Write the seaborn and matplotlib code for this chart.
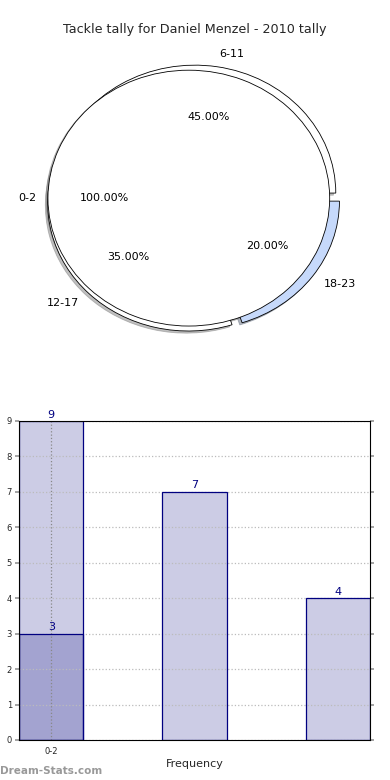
import matplotlib
matplotlib.use("Agg")
import matplotlib.pyplot as plt
import seaborn as sns
import pandas as pd

# pie data
pie_labels = ["6-11", "12-17", "18-23"]
pie_values = [45, 35, 20]
base_label = ["0-2"]
base_value = [100]

# bar data
bar_cats = ["0-2", "6-11", "12-17"]
bar_totals = [9, 7, 4]
bar_low_cat = ["0-2"]
bar_low = [3]
tick_labels = ["0-2", "", ""]

sns.set_theme(style="white")
plt.rcParams['font.family'] = ['DejaVu Sans']

fig = plt.figure(figsize=(3.9, 7.8), dpi=100)

# ---- pie ----
ax1 = fig.add_axes([0.046, 0.541, 0.903, 0.41])
ax1.pie(pie_values, labels=pie_labels, autopct='%.2f%%', startangle=0,
        colors=["white", "white", "#c6d9fb"], explode=[0.04, 0.055, 0.04],
        radius=1.0, shadow=dict(ox=-0.012, oy=-0.012, shade=0.5),
        labeldistance=1.1, pctdistance=0.6,
        wedgeprops=dict(edgecolor="black", linewidth=0.6),
        textprops=dict(fontsize=8, color="black"))
ax1.pie(base_value, labels=base_label, autopct='%.2f%%', startangle=0,
        colors=["white"], radius=1.0, explode=[0.037],
        shadow=dict(ox=-0.01, oy=-0.01, shade=0.5),
        labeldistance=1.08, pctdistance=0.6,
        wedgeprops=dict(edgecolor="black", linewidth=0.6),
        textprops=dict(fontsize=8, color="black"))
ax1.set_aspect('auto')
ax1.set_xlim(-1.25, 1.25)
ax1.set_ylim(-1.25, 1.25)
fig.text(0.5, 1 - 30 / 780, "Tackle tally for Daniel Menzel - 2010 tally",
         ha="center", va="center", fontsize=9.2)

# ---- bars ----
ax2 = fig.add_axes([0.0487, 0.0513, 0.9, 0.409])
df_tot = pd.DataFrame({"cat": bar_cats, "val": bar_totals})
df_low = pd.DataFrame({"cat": bar_low_cat, "val": bar_low})
sns.barplot(data=df_tot, x="cat", y="val", order=bar_cats, color="#ccccE5",
            saturation=1, width=0.45, linewidth=0, ax=ax2)
sns.barplot(data=df_low, x="cat", y="val", order=bar_cats, color="#a3a3d0",
            saturation=1, width=0.45, linewidth=0, ax=ax2)
for cont in list(ax2.containers):
    ax2.bar_label(cont, fmt="%d", color="#000080", fontsize=8, padding=1)
n_filled = len(ax2.patches)

# outlines on top of the dotted grid
sns.barplot(data=df_tot, x="cat", y="val", order=bar_cats, fill=False,
            color="#000080", width=0.45, linewidth=0.9, ax=ax2)
sns.barplot(data=df_low, x="cat", y="val", order=bar_cats, fill=False,
            color="#000080", width=0.45, linewidth=0.9, ax=ax2)
for p in ax2.patches[n_filled:]:
    p.set_edgecolor("#000080")
    p.set_zorder(3)

ax2.set_xlim(-0.225, 2.225)
ax2.set_ylim(0, 9)
ax2.set_yticks(range(0, 10))
ax2.set_xticks([0])
ax2.set_xticklabels(tick_labels[:1])
ax2.tick_params(axis="both", labelsize=6, length=3, color="#999999",
                left=True, right=True, bottom=False, pad=2)
ax2.set_axisbelow(False)
ax2.grid(True, axis="y", linestyle=":", color="#bbbbbb", linewidth=0.9, zorder=2.5)
ax2.grid(True, axis="x", linestyle=":", color="#888888", linewidth=0.9, zorder=2.5)
for sp in ax2.spines.values():
    sp.set_color("black")
    sp.set_linewidth(0.8)
    sp.set_zorder(3)
ax2.set_xlabel("Frequency", fontsize=8, labelpad=2)
ax2.set_ylabel("")

fig.text(0.0, 1 - 771 / 780, "Dream-Stats.com", fontsize=7.5, color="#999999",
         fontweight="bold", ha="left", va="center")

fig.savefig("out.png", dpi=100)
